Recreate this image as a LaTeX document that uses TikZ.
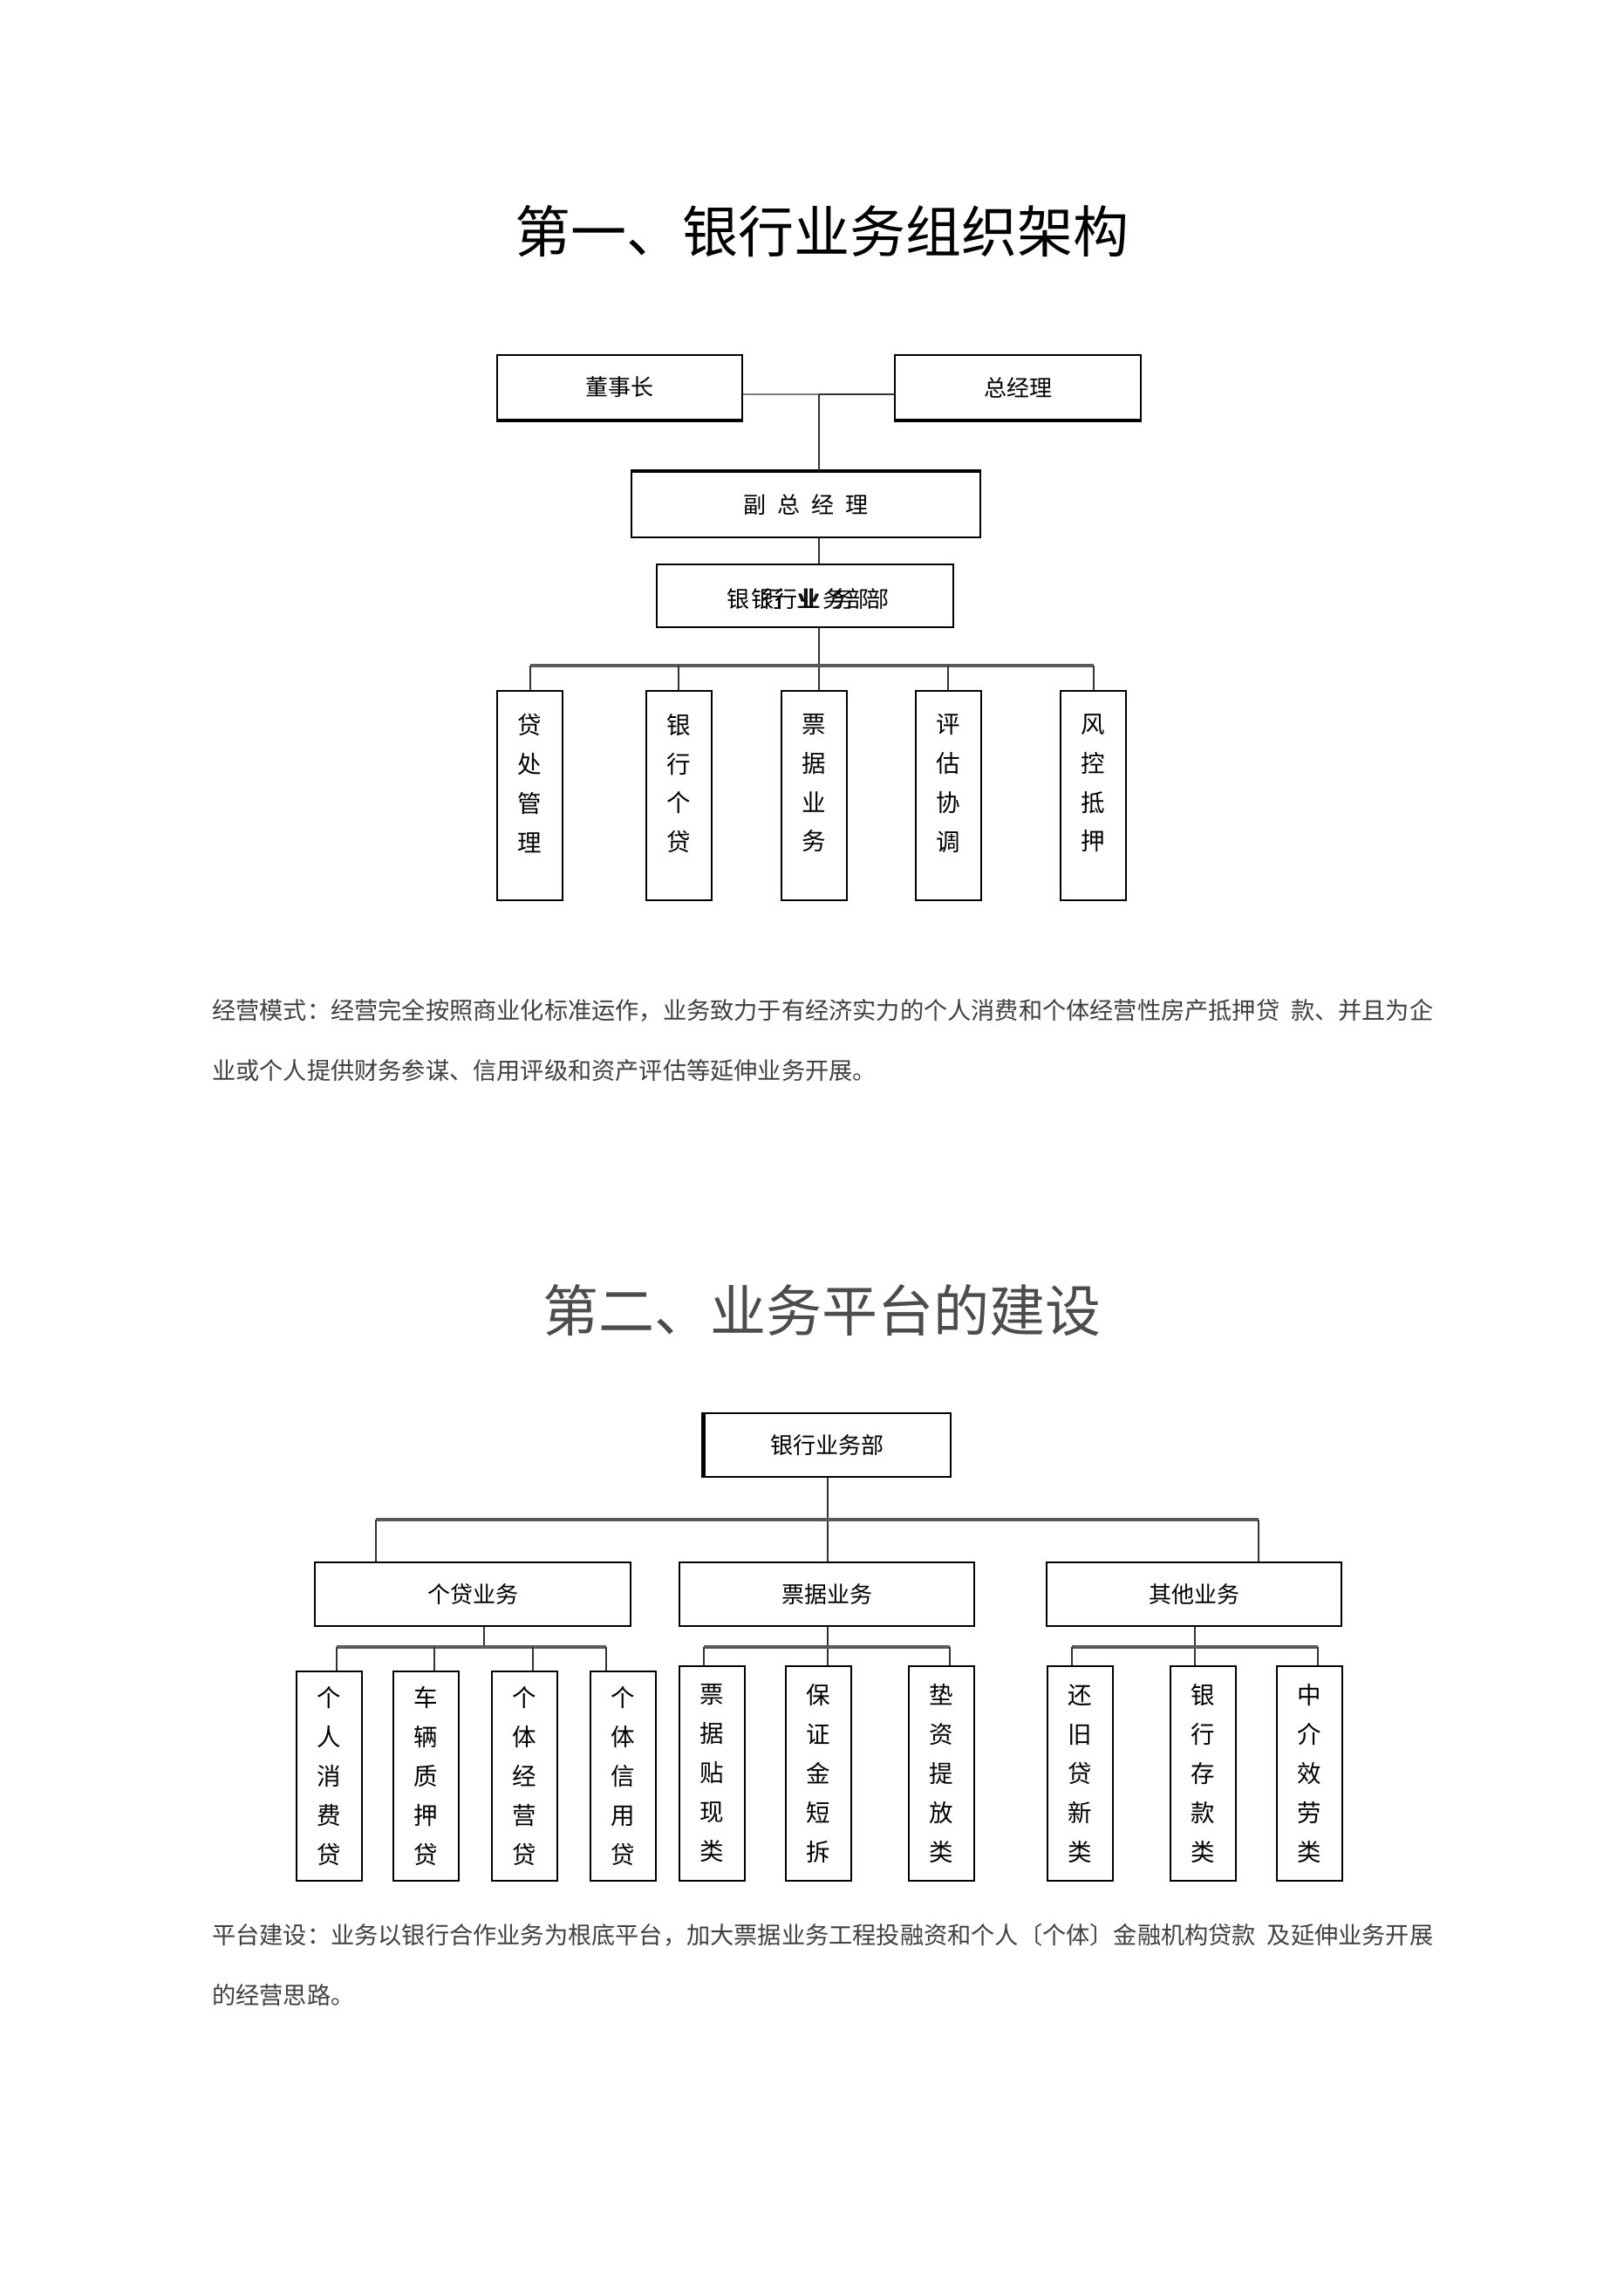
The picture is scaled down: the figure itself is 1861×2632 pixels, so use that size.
\documentclass[tikz,border=0pt]{standalone}
\usepackage{fontspec}
\setmainfont{Noto Sans CJK SC}

\tikzset{
  lbl/.style={inner sep=0pt, font=\fontsize{26}{30}\selectfont},
  box/.style={lbl, draw, line width=2pt},
  leaf/.style={box, minimum width=75, align=center, font=\fontsize{27.5}{45}\selectfont},
  vtext/.style={inner sep=0pt, align=center, font=\fontsize{27.5}{44.7}\selectfont},
  link/.style={line width=2pt, black!80},
  bar/.style={line width=4pt, black!65},
  para/.style={inner sep=0pt, anchor=west, text=black!75, font=\fontsize{27.2}{30}\selectfont},
}

\begin{document}
\begin{tikzpicture}[x=1pt,y=-1pt]
\useasboundingbox[fill=white] (0,0) rectangle (1861,2632);

% titles
\node[inner sep=0pt, font=\fontsize{64}{70}\selectfont] (title1) at (942,265) {第一、银行业务组织架构};
\node[inner sep=0pt, text=black!70, font=\fontsize{64}{70}\selectfont] (title2) at (942,1502) {第二、业务平台的建设};

% chart one
\node[box, minimum width=281, minimum height=74] (chair) at (710.5,444) {董事长};
\node[box, minimum width=282, minimum height=74] (gm) at (1167,444) {总经理};
\node[box, minimum width=400, minimum height=75] (vgm) at (924,578.5) {副\hspace{13pt}总\hspace{13pt}经\hspace{13pt}理};
\node[box, minimum width=340, minimum height=72] (dept) at (923,683) {};
\node[lbl] (deptA) at (926.5,687) {银\hspace{14pt}行\hspace{14pt}业\hspace{14pt}务\hspace{14pt}部};
\node[lbl] (deptB) at (929,687) {银\hspace{1.5pt}行\hspace{1.5pt}业\hspace{1.5pt}务\hspace{1.5pt}部};
\draw[line width=4pt] (chair.south west) -- (chair.south east);
\draw[line width=4pt] (gm.south west) -- (gm.south east);
\draw[line width=4pt] (vgm.north west) -- (vgm.north east);

\foreach \n/\x/\t in {l1/607.5/{贷\\处\\管\\理}, l2/778/{银\\行\\个\\贷}, l3/933/{票\\据\\业\\务},
                      l4/1087/{评\\估\\协\\调}, l5/1253.5/{风\\控\\抵\\押}} {
  \node[box, minimum width=75, minimum height=240] (\n) at (\x,912) {};
  \node[vtext] (\n-t) at (\x,898) {\t};
}

\coordinate (top) at (939,452);
\coordinate (bar1) at (939,763);
\draw[link, black!50] (chair.east |- top) -- (top);
\draw[link] (top) -- (gm.west |- top);
\draw[link] (top) -- (top |- vgm.north);
\draw[link] (top |- vgm.south) -- (top |- dept.north);
\draw[link] (top |- dept.south) -- (top |- l3.north);
\draw[bar] (l1.north |- bar1) -- (l5.north |- bar1);
\foreach \n in {l1,l2,l4,l5}
  \draw[link] (\n.north |- bar1) -- (\n.north);

% chart two
\node[box, minimum width=283, minimum height=73] (root) at (948.5,1656.5) {银行业务部};
\draw[line width=5pt] (root.north west) -- (root.south west);
\node[box, minimum width=362, minimum height=73] (loan) at (542,1827.5) {个贷业务};
\node[box, minimum width=338, minimum height=73] (bill) at (948,1827.5) {票据业务};
\node[box, minimum width=338, minimum height=73] (other) at (1369,1827.5) {其他业务};

\foreach \n/\x/\t in {a1/377.5/{个\\人\\消\\费\\贷}, a2/488.5/{车\\辆\\质\\押\\贷},
                      a3/601.5/{个\\体\\经\\营\\贷}, a4/714/{个\\体\\信\\用\\贷}}
  \node[leaf, minimum height=240] (\n) at (\x,2036) {\t};
\foreach \n/\x/\t in {b1/816.5/{票\\据\\贴\\现\\类}, b2/938.5/{保\\证\\金\\短\\拆}, b3/1079.5/{垫\\资\\提\\放\\类},
                      c1/1238.5/{还\\旧\\贷\\新\\类}, c2/1379.5/{银\\行\\存\\款\\类}, c3/1501.5/{中\\介\\效\\劳\\类}}
  \node[leaf, minimum height=246] (\n) at (\x,2033) {\t};

\coordinate (barL) at (431,1742);
\coordinate (barR) at (1443,1742);
\coordinate (trunk) at (949,1742);
\draw[link] (root.south -| trunk) -- (trunk |- bill.north);
\draw[bar] (barL) -- (barR);
\draw[link] (barL) -- (barL |- loan.north);
\draw[link] (barR) -- (barR |- other.north);

% sub groups
\coordinate (subA) at (555,1888);
\coordinate (subB) at (949,1888);
\coordinate (subC) at (1370,1888);
\draw[link] (subA |- loan.south) -- (subA);
\draw[link] (subB |- bill.south) -- (subB |- b2.north);
\draw[link] (subC |- other.south) -- (subC |- c2.north);
\draw[bar] (386,1888) -- (695,1888);
\draw[bar] (807,1888) -- (1089,1888);
\draw[bar] (1229,1888) -- (1511,1888);
\foreach \x/\n in {386/a1, 498/a2, 611/a3, 695/a4, 807/b1, 1089/b3, 1229/c1, 1511/c3} {
  \coordinate (d) at (\x,1888);
  \draw[link] (d) -- (d |- \n.north);
}

% text
\node[para] (text1a) at (243,1158) {经营模式：经营完全按照商业化标准运作，业务致力于有经济实力的个人消费和个体经营性房产抵押贷\hspace{13pt}款、并且为企};
\node[para] (text1b) at (243,1227) {业或个人提供财务参谋、信用评级和资产评估等延伸业务开展。};
\node[para] (text2a) at (243,2218) {平台建设：业务以银行合作业务为根底平台，加大票据业务工程投融资和个人〔个体〕金融机构贷款\hspace{13pt}及延伸业务开展};
\node[para] (text2b) at (243,2287) {的经营思路。};
\end{tikzpicture}
\end{document}
